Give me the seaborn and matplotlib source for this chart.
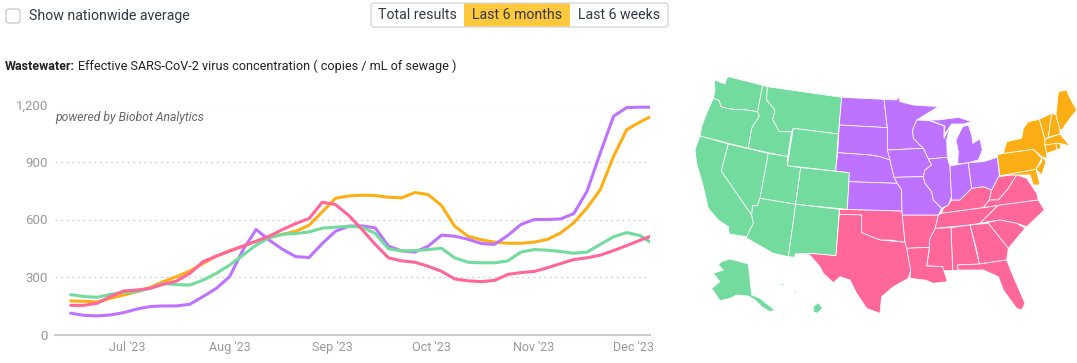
import matplotlib
matplotlib.use('Agg')
import matplotlib.pyplot as plt
import matplotlib.dates as mdates
from matplotlib.patches import Polygon, Rectangle, FancyBboxPatch
import pandas as pd
import seaborn as sns

sns.set_style('white')
plt.rcParams['font.family'] = ['Roboto', 'DejaVu Sans']

# 4일 간격으로 그림에서 읽은 값
dates = list(pd.date_range('2023-06-14', periods=44, freq='4D')) + [pd.Timestamp('2023-12-06')]
midwest = [111,100,97,102,114,133,146,149,149,158,198,241,302,440,548,492,444,406,402,475,
           539,565,567,556,461,436,430,461,518,513,497,475,470,516,574,600,600,603,631,748,
           948,1139,1184,1186,1186]
northeast = [175,173,170,189,206,224,246,276,302,331,371,409,437,461,487,506,522,539,570,640,
             711,723,727,725,716,713,741,730,673,565,513,494,482,476,476,482,496,530,583,661,
             756,930,1069,1109,1135]
west = [208,198,194,209,221,224,241,267,260,258,284,319,362,414,466,506,523,527,535,555,
        560,565,560,527,447,436,438,443,450,400,377,374,374,384,430,443,440,433,424,430,
        470,510,532,516,483]
south = [152,152,163,198,227,232,241,262,279,319,380,409,435,461,487,513,548,579,605,690,
         678,621,548,470,400,384,377,356,330,290,280,276,282,313,323,329,348,370,391,400,
         414,438,464,492,511]

yticks = [0, 300, 600, 900, 1200]
ytick_labels = ['0', '300', '600', '900', '1,200']
xticks = ['2023-07-01', '2023-08-01', '2023-09-01', '2023-10-01', '2023-11-01', '2023-12-01']
xtick_labels = ["Jul '23", "Aug '23", "Sep '23", "Oct '23", "Nov '23", "Dec '23"]

colors = {'Northeast': '#FDAE14', 'Midwest': '#BD73FF', 'West': '#73DB9E', 'South': '#FF6699'}

# 지도 윤곽 : 왼쪽 부분 (원점 x=680, y=60, 1/3 픽셀 단위)
west_states = {
    'WA': [(103,60),(135,72),(140,55),(145,50),(248,76),(233,155),(200,150),(150,147),(122,140),(118,122),(100,115),(105,90)],
    'OR': [(100,115),(118,122),(122,140),(150,147),(200,150),(233,155),(238,168),(215,205),(205,265),(60,228),(65,200),(80,160)],
    'CA': [(60,228),(145,252),(124,333),(215,465),(220,490),(200,530),(148,522),(145,500),(115,480),(85,445),(70,380),(50,310),(45,270)],
    'NV': [(145,252),(265,280),(240,415),(232,437),(218,437),(215,465),(124,333)],
    'ID': [(248,76),(262,80),(260,120),(285,150),(278,178),(298,215),(335,215),(323,290),(205,265),(215,205),(238,168),(233,155)],
    'MT': [(262,80),(485,112),(475,222),(340,205),(335,215),(298,215),(278,178),(285,150),(260,120)],
    'WY': [(340,205),(475,222),(467,333),(322,317)],
    'UT': [(265,280),(323,290),(322,317),(362,323),(347,433),(240,415)],
    'CO': [(362,323),(508,338),(502,448),(347,433)],
    'AZ': [(240,415),(347,433),(325,590),(280,580),(198,533),(200,530),(220,490),(215,465),(218,437),(232,437)],
    'NM': [(347,433),(478,448),(468,587),(385,580),(345,582),(345,592),(325,590)],
    'AK': [(125,605),(150,597),(205,612),(215,705),(240,715),(265,735),(285,750),(270,755),(245,740),(225,720),(205,708),(170,705),(150,715),(120,722),(95,685),(120,665),(100,640),(130,630),(115,615)],
    'AK2': [(40,768),(100,752),(125,735),(105,752)],
    'HI': [(400,740),(415,728),(428,745),(410,760),(400,755)],
    'HI2': [(340,688),(352,695),(345,697)],
    'HI3': [(300,673),(312,670),(310,678)],
}

# 지도 윤곽 : 오른쪽 부분 (원점 x=870, y=60, 1/3 픽셀 단위)
midwest_states = {
    'ND': [(-85,112),(42,118),(52,203),(-92,195)],
    'SD': [(-92,195),(52,203),(54,270),(60,300),(30,290),(0,285),(-97,278)],
    'NE': [(-97,278),(0,285),(30,290),(60,300),(72,352),(82,370),(-63,365),(-62,338),(-103,333)],
    'KS': [(-63,365),(82,370),(95,390),(96,453),(-68,448)],
    'MN': [(42,118),(80,120),(85,108),(90,125),(130,135),(205,140),(140,180),(128,210),(130,235),(160,265),(52,270),(52,203)],
    'WI': [(140,180),(178,182),(222,198),(222,235),(240,200),(230,240),(232,292),(175,297),(160,265),(130,235),(128,210)],
    'IA': [(52,270),(160,265),(175,297),(185,315),(165,330),(160,350),(72,352),(60,300)],
    'MO': [(72,352),(160,350),(165,370),(185,395),(190,420),(215,445),(205,465),(97,465),(96,453),(95,390),(82,370)],
    'IL': [(175,297),(232,292),(240,320),(245,410),(235,435),(215,445),(190,420),(185,395),(165,370),(160,350),(165,330),(185,315)],
    'IN': [(240,318),(295,308),(305,385),(270,420),(245,420)],
    'OH': [(295,308),(340,305),(382,292),(388,345),(365,390),(340,380),(305,385)],
    'MI': [(263,312),(265,275),(258,240),(278,200),(295,195),(305,225),(308,250),(330,237),(337,270),(325,300),(295,308)],
    'MI2': [(178,180),(205,180),(265,172),(305,185),(280,192),(245,192),(222,225),(225,198)],
}
south_states = {
    'OK': [(-92,448),(96,453),(100,500),(105,547),(60,540),(30,540),(-25,518),(-25,465),(-92,463)],
    'TX': [(-92,463),(-25,465),(-25,518),(30,540),(105,547),(110,565),(122,630),(115,655),(70,680),(35,710),(30,760),(-10,745),(-40,700),(-60,660),(-90,650),(-110,668),(-140,640),(-150,620),(-185,580),(-102,587)],
    'KY': [(245,420),(270,420),(305,385),(340,380),(365,390),(358,420),(340,443),(215,460),(220,445),(235,435)],
    'TN': [(205,465),(215,460),(340,443),(385,436),(355,465),(330,490),(300,495),(195,505)],
    'WV': [(388,345),(390,350),(420,345),(440,345),(415,385),(385,420),(358,420),(365,390)],
    'VA': [(358,420),(385,420),(415,385),(440,345),(470,355),(500,400),(505,420),(385,436),(340,443)],
    'NC': [(385,436),(505,420),(523,450),(470,500),(440,490),(390,480),(355,485),(330,490),(355,465)],
    'SC': [(355,487),(390,480),(440,490),(465,505),(415,565),(355,490)],
    'GA': [(300,495),(355,490),(415,565),(410,600),(328,612),(320,570)],
    'AL': [(243,503),(300,495),(328,612),(262,615),(265,630),(248,632)],
    'MS': [(195,505),(243,503),(248,632),(220,632),(218,620),(170,617),(178,570),(177,540)],
    'AR': [(97,465),(205,465),(195,505),(178,540),(178,562),(110,565),(105,547)],
    'LA': [(110,565),(178,562),(170,618),(218,620),(232,665),(190,670),(165,660),(120,655),(122,630)],
    'FL': [(262,615),(328,612),(410,600),(430,650),(465,730),(455,750),(440,745),(400,690),(385,650),(340,630),(290,630),(265,630)],
}
northeast_states = {
    'PA': [(382,285),(400,280),(490,268),(515,295),(498,328),(390,348)],
    'NY': [(400,280),(410,245),(455,235),(460,205),(475,185),(508,178),(525,238),(525,255),(530,280),(530,295),(515,290),(490,268)],
    'NJ': [(515,290),(528,305),(515,345),(498,328),(515,305)],
    'MD': [(388,348),(498,328),(510,375),(490,375),(480,345),(450,345),(420,345)],
    'VT': [(508,178),(545,160),(535,232),(525,238)],
    'NH': [(545,160),(558,165),(570,210),(570,222),(535,232)],
    'ME': [(558,165),(565,95),(590,90),(600,115),(620,150),(600,175),(575,210),(570,210)],
    'MA': [(525,238),(570,222),(585,240),(600,258),(570,250),(525,255)],
    'CT': [(525,255),(558,250),(560,270),(530,280)],
    'RI': [(558,250),(570,250),(572,265),(560,270)],
    'LI': [(530,295),(570,275),(535,290)],
}

df = pd.DataFrame({
    'date': dates * 4,
    'value': northeast + midwest + west + south,
    'region': ['Northeast'] * 45 + ['Midwest'] * 45 + ['West'] * 45 + ['South'] * 45,
})

W, H = 1077, 363
fig = plt.figure(figsize=(W / 100, H / 100), dpi=100, facecolor='white')
ax = fig.add_axes([55 / W, 1 - 334.5 / H, (650 - 55) / W, 230 / H])

for v in yticks[1:]:
    ax.axhline(v, color='#d6d6d6', lw=1, ls=(0, (1.5, 2.5)), zorder=1)

sns.lineplot(data=df, x='date', y='value', hue='region', hue_order=list(colors), palette=colors,
             linewidth=2.2, legend=False, estimator=None, sort=False, ax=ax, zorder=3)

ax.set_xlim(mdates.date2num(pd.Timestamp('2023-07-01')) - (127 - 55) / 3.31,
            mdates.date2num(pd.Timestamp('2023-07-01')) + (650 - 127) / 3.31)
ax.set_ylim(0, 1200)
ax.set_xlabel('')
ax.set_ylabel('')
ax.set_xticks(pd.to_datetime(xticks))
ax.set_xticklabels(xtick_labels)
ax.set_yticks(yticks)
ax.set_yticklabels(ytick_labels)
ax.tick_params(axis='x', length=3, width=1, color='#cccccc', labelcolor='#999999', labelsize=9, pad=2)
ax.tick_params(axis='y', length=0, labelcolor='#999999', labelsize=9.5, pad=5)
sns.despine(ax=ax, left=True, top=True, right=True)
ax.spines['bottom'].set_color('#cccccc')
ax.spines['bottom'].set_linewidth(1.5)
ax.patch.set_alpha(0)

# 나머지 요소는 픽셀 좌표계로 그림
over = fig.add_axes([0, 0, 1, 1], zorder=5)
over.set_xlim(0, W)
over.set_ylim(H, 0)
over.axis('off')


def add_states(states, x0, color):
    for pts in states.values():
        xy = [(x0 + x / 3, 60 + y / 3) for x, y in pts]
        over.add_patch(Polygon(xy, closed=True, facecolor=color, edgecolor='white', lw=0.55, joinstyle='round'))


add_states(west_states, 680, colors['West'])
add_states(south_states, 870, colors['South'])
add_states(midwest_states, 870, colors['Midwest'])
add_states(northeast_states, 870, colors['Northeast'])

# 상단 컨트롤
over.add_patch(FancyBboxPatch((6, 9), 14, 14, boxstyle='round,pad=0,rounding_size=3',
                              facecolor='white', edgecolor='#cccccc', lw=1))
over.text(29, 16, 'Show nationwide average', fontsize=10.2, color='#333a45', va='center')

over.add_patch(Rectangle((464, 3), 106, 24, facecolor='#FFC83D', edgecolor='none'))
over.add_patch(FancyBboxPatch((371, 3), 297, 24, boxstyle='round,pad=0,rounding_size=3',
                              facecolor='none', edgecolor='#d8d8d8', lw=1))
for cx, label in zip([417.5, 517, 619], ['Total results', 'Last 6 months', 'Last 6 weeks']):
    over.text(cx, 15, label, fontsize=10.2, color='#333a45', ha='center', va='center')

over.text(5, 66, 'Wastewater:', fontsize=9, fontweight='bold', color='#222222', va='center')
over.text(78, 66, 'Effective SARS-CoV-2 virus concentration ( copies / mL of sewage )', fontsize=9.1,
          color='#222222', va='center')
over.text(55, 118, 'powered by Biobot Analytics', fontsize=8.7, style='italic', color='#666666', va='center')

fig.savefig('out.png', dpi=100)
